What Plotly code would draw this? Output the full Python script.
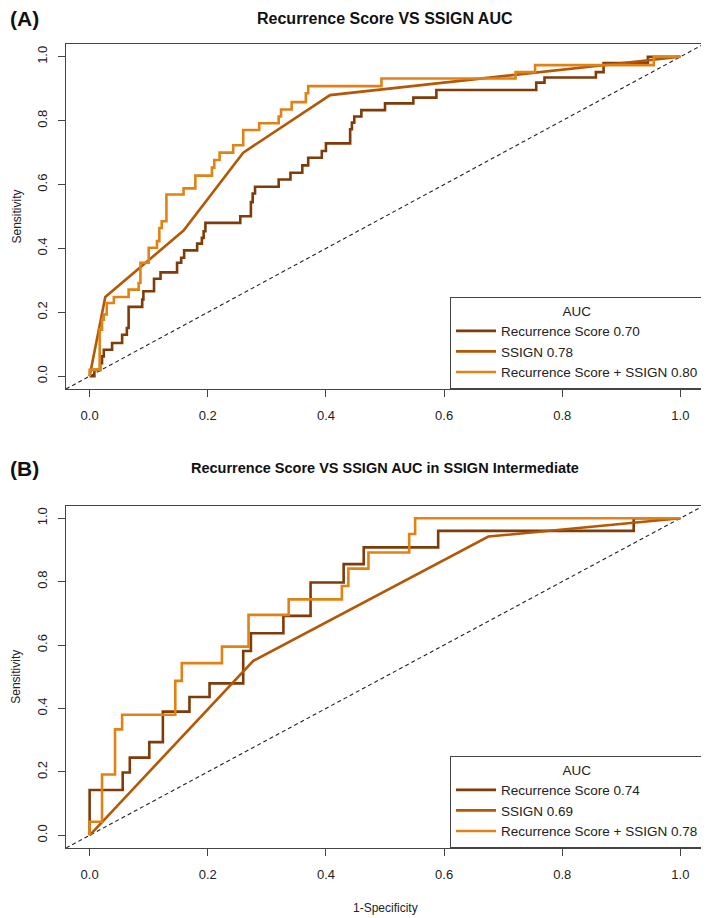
import plotly.graph_objects as go
from plotly.subplots import make_subplots

# ---------------- data ----------------
# Panel A: Recurrence Score VS SSIGN AUC
a_rs_fpr = [0, 0.008, 0.018, 0.021, 0.024, 0.038, 0.055, 0.063, 0.066, 0.089, 0.091, 0.109, 0.120, 0.148,
            0.155, 0.160, 0.182, 0.190, 0.193, 0.196, 0.255, 0.273, 0.276, 0.280, 0.320, 0.340, 0.360,
            0.370, 0.393, 0.400, 0.441, 0.444, 0.448, 0.460, 0.500, 0.548, 0.587, 0.756, 0.770, 0.857,
            0.870, 0.945, 1.0]
a_rs_tpr = [0, 0.020, 0.041, 0.062, 0.083, 0.104, 0.130, 0.151, 0.217, 0.240, 0.266, 0.305, 0.325, 0.355,
            0.371, 0.394, 0.415, 0.433, 0.454, 0.480, 0.501, 0.545, 0.572, 0.593, 0.616, 0.637, 0.660,
            0.684, 0.705, 0.729, 0.773, 0.794, 0.813, 0.833, 0.854, 0.872, 0.896, 0.919, 0.935, 0.952,
            0.980, 1.0, 1.0]

a_ss_fpr = [0, 0.0265, 0.159, 0.260, 0.407, 0.870, 1.0]
a_ss_tpr = [0, 0.248, 0.456, 0.700, 0.880, 0.975, 1.0]

a_cb_fpr = [0, 0, 0.017, 0.021, 0.024, 0.029, 0.041, 0.066, 0.083, 0.086, 0.100, 0.114, 0.118, 0.122,
            0.130, 0.159, 0.179, 0.207, 0.211, 0.220, 0.243, 0.260, 0.287, 0.320, 0.324, 0.342, 0.366,
            0.370, 0.494, 0.721, 0.754, 0.955, 1.0]
a_cb_tpr = [0, 0.020, 0.146, 0.177, 0.193, 0.229, 0.248, 0.271, 0.292, 0.355, 0.402, 0.423, 0.464, 0.485,
            0.569, 0.588, 0.628, 0.653, 0.677, 0.700, 0.723, 0.771, 0.792, 0.813, 0.835, 0.858, 0.886,
            0.908, 0.932, 0.952, 0.974, 1.0, 1.0]

# Panel B: in SSIGN Intermediate
b_rs_fpr = [0, 0, 0.056, 0.068, 0.101, 0.124, 0.169, 0.203, 0.260, 0.273, 0.328, 0.374, 0.430, 0.464,
            0.590, 0.921, 1.0]
b_rs_tpr = [0, 0.143, 0.198, 0.245, 0.294, 0.390, 0.436, 0.479, 0.581, 0.637, 0.692, 0.797, 0.855, 0.908,
            0.960, 1.0, 1.0]

b_ss_fpr = [0, 0.277, 0.675, 1.0]
b_ss_tpr = [0, 0.550, 0.942, 1.0]

b_cb_fpr = [0, 0, 0.021, 0.043, 0.055, 0.145, 0.156, 0.224, 0.269, 0.337, 0.427, 0.438, 0.472, 0.541,
            0.551, 1.0]
b_cb_tpr = [0, 0.043, 0.192, 0.334, 0.380, 0.487, 0.543, 0.595, 0.695, 0.744, 0.786, 0.841, 0.892, 0.950,
            1.0, 1.0]

names_a = ["Recurrence Score 0.70", "SSIGN 0.78", "Recurrence Score + SSIGN 0.80"]
names_b = ["Recurrence Score 0.74", "SSIGN 0.69", "Recurrence Score + SSIGN 0.78"]
colors = ["#7F3B08", "#B35806", "#E08214"]
ticks = [0, 0.2, 0.4, 0.6, 0.8, 1.0]
tick_text = ["0.0", "0.2", "0.4", "0.6", "0.8", "1.0"]
titles = ["Recurrence Score VS SSIGN AUC", "Recurrence Score VS SSIGN AUC in SSIGN Intermediate"]
panel_tags = ["(A)", "(B)"]

# ---------------- figure ----------------
FONT = "Liberation Sans, Arial, Helvetica, sans-serif"
W, H = 701, 910          # page has an 8px body margin
ML, MR, MT, MB = 58, 5, 36, 70
PW, PH = W - ML - MR, H - MT - MB
BOT = H - MB  # plot area bottom in figure px


def ypaper(fig_py):
    return (BOT - fig_py) / PH


def xpaper(fig_px):
    return (fig_px - ML) / PW


fig = make_subplots(rows=2, cols=1)

domA = [ypaper(381), 1.0]
domB = [0.0, ypaper(497.5)]

panels = [
    (1, "legend", names_a, [(a_rs_fpr, a_rs_tpr, "hv"), (a_ss_fpr, a_ss_tpr, "linear"), (a_cb_fpr, a_cb_tpr, "hv")]),
    (2, "legend2", names_b, [(b_rs_fpr, b_rs_tpr, "hv"), (b_ss_fpr, b_ss_tpr, "linear"), (b_cb_fpr, b_cb_tpr, "hv")]),
]
for row, leg, names, curves in panels:
    # diagonal reference line across the whole box
    fig.add_trace(go.Scatter(x=[-0.04, 1.04], y=[-0.04, 1.04], mode="lines",
                             line=dict(color="#222222", width=1.1, dash="4px,3px"),
                             showlegend=False, hoverinfo="skip"), row=row, col=1)
    for (fx, ty, shape), nm, col in zip(curves, names, colors):
        fig.add_trace(go.Scatter(x=fx, y=ty, mode="lines", name=nm, legend=leg,
                                 line=dict(color=col, width=2.6, shape=shape)),
                      row=row, col=1)

axis_common = dict(range=[-0.04, 1.04], showgrid=False, zeroline=False, showline=True, mirror=True,
                   linecolor="#444444", linewidth=1.3, ticks="outside", ticklen=7, tickwidth=1,
                   tickcolor="#444444", tickvals=ticks, ticktext=tick_text, automargin=False,
                   tickfont=dict(family=FONT, size=13, color="#222222"))
fig.update_xaxes(**axis_common, ticklabelstandoff=7)
fig.update_yaxes(**axis_common, tickangle=-90, ticklabelstandoff=6)
fig.update_layout(
    xaxis=dict(domain=[0, 1], anchor="y"),
    yaxis=dict(domain=domA, anchor="x"),
    xaxis2=dict(domain=[0, 1], anchor="y2"),
    yaxis2=dict(domain=domB, anchor="x2"),
)

leg_common = dict(xanchor="right", x=1.0, yanchor="bottom", bgcolor="white", bordercolor="#444444",
                  borderwidth=1, font=dict(family=FONT, size=13.5, color="#222222"),
                  title=dict(text="AUC", side="top center", font=dict(family=FONT, size=13.5, color="#222222")),
                  itemwidth=40, tracegroupgap=0)
fig.update_layout(
    legend=dict(**leg_common, y=domA[0]),
    legend2=dict(**leg_common, y=domB[0]),
)

ann = []
title_sizes = [16, 14.5]
title_py = [10, 460]
for t, tag, fs, tpy in zip(titles, panel_tags, title_sizes, title_py):
    yp = ypaper(tpy)
    ann.append(dict(text="<b>" + t + "</b>", x=0.5, y=yp, xref="paper", yref="paper", showarrow=False,
                    xanchor="center", yanchor="middle", font=dict(family=FONT, size=fs, color="#111111")))
    ann.append(dict(text="<b>" + tag + "</b>", x=xpaper(0), y=yp, xref="paper",
                    yref="paper", showarrow=False, xanchor="left", yanchor="middle",
                    font=dict(family=FONT, size=21, color="#111111")))
# y-axis titles
for dom in (domA, domB):
    ann.append(dict(text="Sensitivity", x=xpaper(8), y=(dom[0] + dom[1]) / 2, xref="paper", yref="paper",
                    showarrow=False, textangle=-90, xanchor="center", yanchor="middle",
                    font=dict(family=FONT, size=12, color="#222222")))
# x-axis title (bottom panel only)
ann.append(dict(text="1-Specificity", x=0.5, y=ypaper(900), xref="paper", yref="paper", showarrow=False,
                xanchor="center", yanchor="middle", font=dict(family=FONT, size=12, color="#222222")))
fig.update_layout(annotations=ann)

fig.update_layout(width=W, height=H, margin=dict(l=ML, r=MR, t=MT, b=MB, autoexpand=False),
                  plot_bgcolor="white", paper_bgcolor="white", showlegend=True)

fig.write_html("out.html")
